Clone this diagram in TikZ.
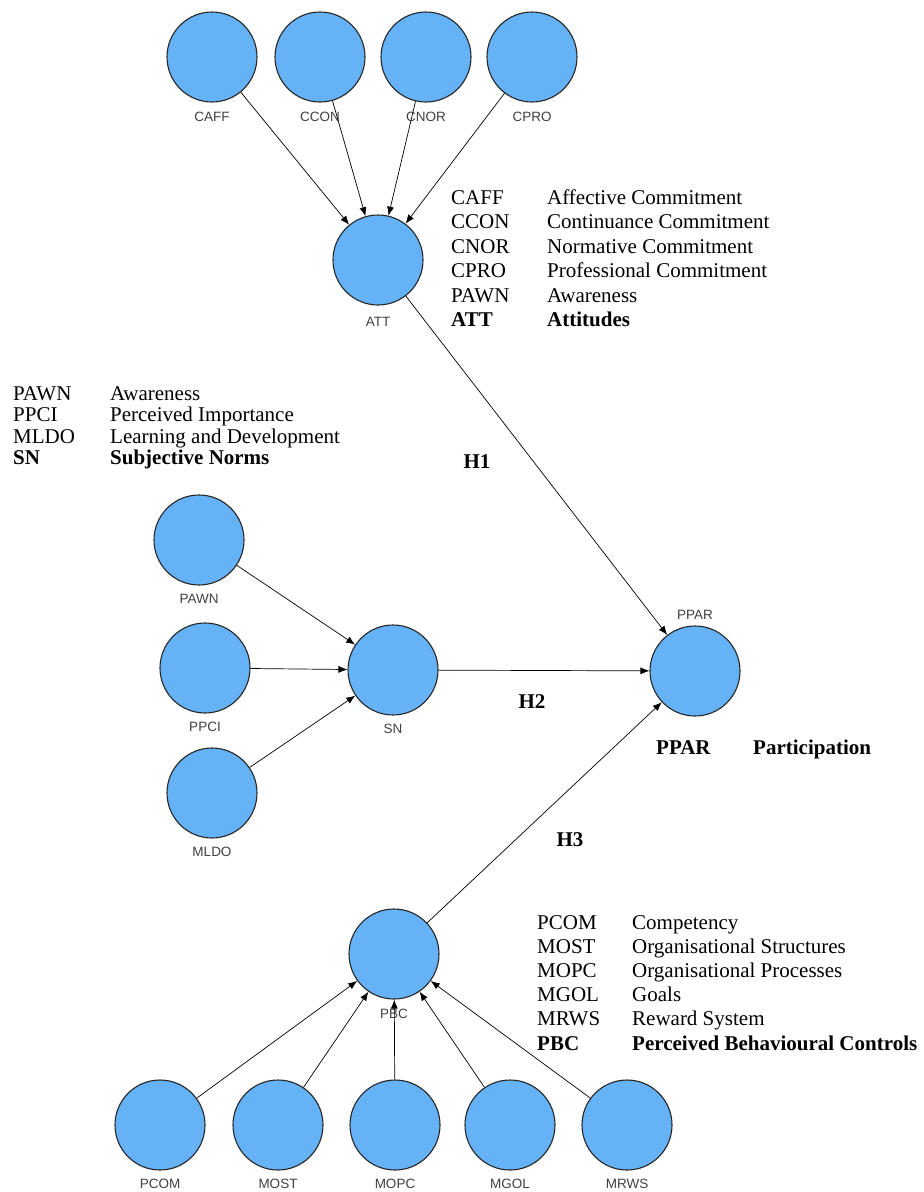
\documentclass[tikz,border=0pt]{standalone}
\usepackage{fontspec}
\setmainfont{Liberation Serif}
\newfontfamily\tagfont{Liberation Sans}
\usetikzlibrary{arrows.meta, positioning}
\definecolor{constructblue}{RGB}{102,178,247}
\tikzset{
  latent/.style={circle, draw=black!85, line width=1.1pt, fill=constructblue, minimum size=90pt, inner sep=0pt},
  tag/.style={font=\tagfont\fontsize{13.5}{14}\selectfont, text=black!75, inner sep=0pt},
  link/.style={-{Latex[length=9pt,width=7pt]}, line width=0.7pt},
  keytab/.style={inner sep=0pt, anchor=base west},
  hyp/.style={font=\bfseries\fontsize{21}{24}\selectfont, inner sep=0pt}
}

\begin{document}
\begin{tikzpicture}[x=1pt, y=-1pt]
\useasboundingbox (0,0) rectangle (924,1192);

% Draw attitude indicators
\node[latent] (CAFF) at (212,57) {};
\node[latent] (CCON) at (320,57) {};
\node[latent] (CNOR) at (426,57) {};
\node[latent] (CPRO) at (532,57) {};
\node[tag, below=9pt of CAFF] (CAFFt) {CAFF};
\node[tag, below=9pt of CCON] (CCONt) {CCON};
\node[tag, below=9pt of CNOR] (CNORt) {CNOR};
\node[tag, below=9pt of CPRO] (CPROt) {CPRO};

\node[latent] (ATT) at (378,260) {};
\node[tag, below=11pt of ATT] (ATTt) {ATT};

% Draw subjective norm indicators
\node[latent] (PAWN) at (199,540) {};
\node[latent] (PPCI) at (205,668) {};
\node[latent] (MLDO) at (212,793) {};
\node[tag, below=8pt of PAWN] (PAWNt) {PAWN};
\node[tag, below=8pt of PPCI] (PPCIt) {PPCI};
\node[tag, below=8pt of MLDO] (MLDOt) {MLDO};

\node[latent] (SN) at (393,670) {};
\node[tag, below=8pt of SN] (SNt) {SN};

\node[latent] (PPAR) at (695,671) {};
\node[tag, above=6pt of PPAR] (PPARt) {PPAR};

% Draw behavioural control indicators
\node[latent] (PBC) at (394,954) {};
\node[tag, below=9pt of PBC] (PBCt) {PBC};

\node[latent] (PCOM) at (160,1125) {};
\node[latent] (MOST) at (278,1125) {};
\node[latent] (MOPC) at (395,1125) {};
\node[latent] (MGOL) at (510,1125) {};
\node[latent] (MRWS) at (627,1125) {};
\node[tag, below=8pt of PCOM] (PCOMt) {PCOM};
\node[tag, below=8pt of MOST] (MOSTt) {MOST};
\node[tag, below=8pt of MOPC] (MOPCt) {MOPC};
\node[tag, below=8pt of MGOL] (MGOLt) {MGOL};
\node[tag, below=8pt of MRWS] (MRWSt) {MRWS};

% Draw paths
\draw[link] (CAFF) -- (ATT);
\draw[link] (CCON) -- (ATT);
\draw[link] (CNOR) -- (ATT);
\draw[link] (CPRO) -- (ATT);
\draw[link] (PAWN) -- (SN);
\draw[link] (PPCI) -- (SN);
\draw[link] (MLDO) -- (SN);
\draw[link] (PCOM) -- (PBC);
\draw[link] (MOST) -- (PBC);
\draw[link] (MOPC) -- (PBC);
\draw[link] (MGOL) -- (PBC);
\draw[link] (MRWS) -- (PBC);
\draw[link] (ATT) -- (PPAR);
\draw[link] (SN) -- (PPAR);
\draw[link] (PBC) -- (PPAR);

% Hypotheses
\node[hyp] (H1) at (477,462) {H1};
\node[hyp] (H2) at (532,702) {H2};
\node[hyp] (H3) at (570,840) {H3};

% Draw keys
\node[keytab] (ATTkey) at (451,204) {\fontsize{21}{24.5}\selectfont
  \begin{tabular}[t]{@{}p{96pt}@{}l@{}}
  CAFF & Affective Commitment\\
  CCON & Continuance Commitment\\
  CNOR & Normative Commitment\\
  CPRO & Professional Commitment\\
  PAWN & Awareness\\
  \textbf{ATT} & \textbf{Attitudes}
  \end{tabular}};
\node[keytab] (SNkey) at (13,400) {\fontsize{21}{21.5}\selectfont
  \begin{tabular}[t]{@{}p{97pt}@{}l@{}}
  PAWN & Awareness\\
  PPCI & Perceived Importance\\
  MLDO & Learning and Development\\
  \textbf{SN} & \textbf{Subjective Norms}
  \end{tabular}};
\node[keytab] (PPARkey) at (656,754) {\fontsize{21}{24}\selectfont
  \begin{tabular}[t]{@{}p{97pt}@{}l@{}}
  \textbf{PPAR} & \textbf{Participation}
  \end{tabular}};
\node[keytab] (PBCkey) at (537,929) {\fontsize{21}{24.2}\selectfont
  \begin{tabular}[t]{@{}p{95pt}@{}l@{}}
  PCOM & Competency\\
  MOST & Organisational Structures\\
  MOPC & Organisational Processes\\
  MGOL & Goals\\
  MRWS & Reward System\\
  \textbf{PBC} & \textbf{Perceived Behavioural Controls}
  \end{tabular}};
\end{tikzpicture}
\end{document}
